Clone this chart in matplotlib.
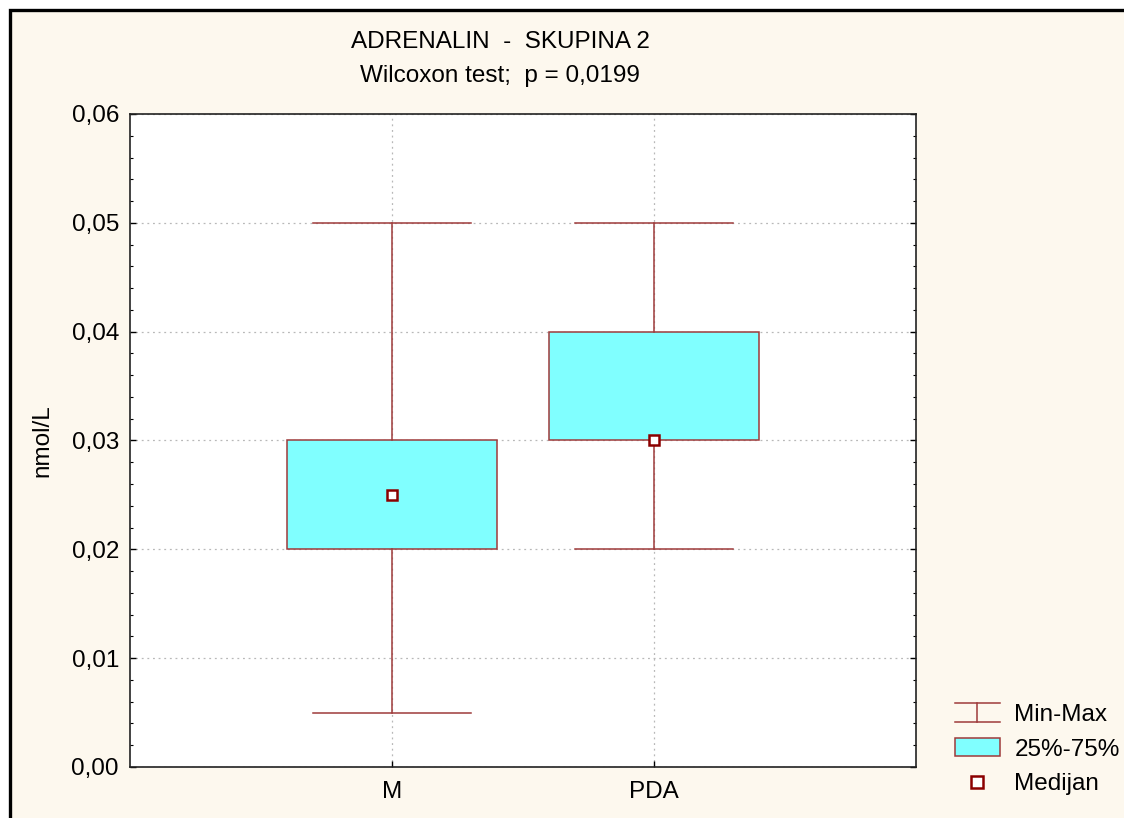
import matplotlib
matplotlib.use("Agg")
import matplotlib.pyplot as plt
from matplotlib.patches import Rectangle
from matplotlib.lines import Line2D
from matplotlib.legend_handler import HandlerBase
from matplotlib.ticker import MultipleLocator, FuncFormatter

plt.rcParams['font.family'] = ['Liberation Sans', 'DejaVu Sans']

# Data
groups = ["M", "PDA"]
mins = [0.005, 0.020]
q1s = [0.020, 0.030]
medians = [0.025, 0.030]
q3s = [0.030, 0.040]
maxs = [0.050, 0.050]

title_line1 = "ADRENALIN  -  SKUPINA 2"
title_line2 = "Wilcoxon test;  p = 0,0199"
y_label = "nmol/L"
legend_labels = ["Min-Max", "25%-75%", "Medijan"]

W, H = 1124, 818
BG = "#FDF8EE"
BOX_FACE = "#80FFFF"
RED = "#8B0000"
WHISK = "#9E3A3A"
FS = 17.5

fig = plt.figure(figsize=(W / 100, H / 100), dpi=100, facecolor="white")

# cream panel with black frame (top and left edges visible)
frame = Rectangle((10 / W, -0.1), 1.2, (1 - 10 / H) + 0.1, transform=fig.transFigure,
                  facecolor=BG, edgecolor="black", linewidth=2.4, zorder=-10)
fig.patches.append(frame)

ax = fig.add_axes([130 / W, (H - 767) / H, 786 / W, 653 / H])
ax.set_facecolor("white")

stats = []
for g, lo, a, m, b, hi in zip(groups, mins, q1s, medians, q3s, maxs):
    stats.append(dict(label=g, whislo=lo, q1=a, med=m, q3=b, whishi=hi, mean=m, fliers=[]))

positions = list(range(1, len(groups) + 1))
ax.bxp(stats, positions=positions, widths=0.8, capwidths=0.6, patch_artist=True,
       showmeans=True, showfliers=False,
       boxprops=dict(facecolor=BOX_FACE, edgecolor=WHISK, linewidth=1.1),
       whiskerprops=dict(color=WHISK, linewidth=1.1),
       capprops=dict(color=WHISK, linewidth=1.1),
       medianprops=dict(linewidth=0),
       meanprops=dict(marker="s", markerfacecolor="white", markeredgecolor=RED,
                      markeredgewidth=1.8, markersize=7.5))

ax.set_xlim(0, len(groups) + 1)
ax.set_ylim(0, 0.06)
ax.set_xticks(positions)
ax.set_xticklabels(groups)
ax.yaxis.set_major_locator(MultipleLocator(0.01))
ax.yaxis.set_minor_locator(MultipleLocator(0.002))
ax.yaxis.set_major_formatter(FuncFormatter(lambda v, p: f"{v:.2f}".replace(".", ",")))

ax.tick_params(axis="both", which="major", direction="in", length=4, width=1,
               labelsize=FS, colors="black", right=True, top=False, pad=8)
ax.tick_params(axis="y", which="minor", direction="in", length=2.5, width=0.8, right=True)
ax.tick_params(axis="x", pad=10)

ax.grid(True, which="major", axis="both", linestyle=(0, (1.5, 3)), color="#B8B8B8",
        linewidth=0.9)
ax.set_axisbelow(True)
for s in ax.spines.values():
    s.set_color("#222222")
    s.set_linewidth(1.2)

ax.set_ylabel(y_label, fontsize=FS, labelpad=13)

fig.text(500 / W, 1 - 42 / H, title_line1, ha="center", va="center", fontsize=FS)
fig.text(500 / W, 1 - 76 / H, title_line2, ha="center", va="center", fontsize=FS)


class HandlerMinMax(HandlerBase):
    def create_artists(self, legend, orig_handle, xdescent, ydescent, width, height,
                       fontsize, trans):
        x0, x1 = -xdescent, -xdescent + width
        xm = (x0 + x1) / 2
        y0, y1 = -ydescent - 0.05 * height, -ydescent + 1.05 * height
        arts = [Line2D([x0, x1], [y0, y0]), Line2D([x0, x1], [y1, y1]),
                Line2D([xm, xm], [y0, y1])]
        for a in arts:
            a.set_color(WHISK)
            a.set_linewidth(1.1)
            a.set_transform(trans)
        return arts


class HandlerBox(HandlerBase):
    def create_artists(self, legend, orig_handle, xdescent, ydescent, width, height,
                       fontsize, trans):
        r = Rectangle((-xdescent, -ydescent), width, height, facecolor=BOX_FACE,
                      edgecolor=WHISK, linewidth=1.1, transform=trans)
        return [r]


class HandlerMed(HandlerBase):
    def create_artists(self, legend, orig_handle, xdescent, ydescent, width, height,
                       fontsize, trans):
        m = Line2D([-xdescent + width / 2], [-ydescent + height / 2], marker="s",
                   markerfacecolor="white", markeredgecolor=RED, markeredgewidth=1.8,
                   markersize=8, linestyle="none", transform=trans)
        return [m]


h1, h2, h3 = object(), object(), object()
leg = fig.legend([h1, h2, h3], legend_labels,
                 handler_map={h1: HandlerMinMax(), h2: HandlerBox(), h3: HandlerMed()},
                 loc="upper left", bbox_to_anchor=(945 / W, 1 - 694 / H),
                 frameon=False, fontsize=FS, handlelength=1.85, handleheight=0.75,
                 handletextpad=0.6, labelspacing=0.5, borderaxespad=0)

fig.savefig("out.png", dpi=100, facecolor="white")
